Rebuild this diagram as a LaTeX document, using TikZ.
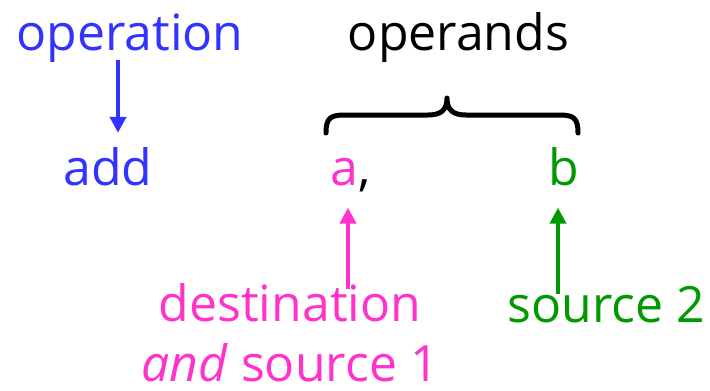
\documentclass[tikz,border=0pt]{standalone}
\usepackage{fontspec}
\setmainfont{Open Sans}
\usetikzlibrary{arrows.meta}
\definecolor{opblue}{RGB}{51,51,255}
\definecolor{oppink}{RGB}{255,51,204}
\definecolor{opgreen}{RGB}{0,153,0}
\begin{document}
\begin{tikzpicture}[x=1pt,y=-1pt,
  lbl/.style={inner sep=0pt,anchor=base,font=\fontsize{50}{60}\selectfont},
  arr/.style={line width=4.5pt,-{Triangle[length=16pt,width=16pt]}},
  bracestyle/.style={line width=5pt,line cap=round,line join=round}]
\useasboundingbox (0,0) rectangle (710,391);
\node[lbl,text=opblue] (operation) at (130,50) {operation};
\node[lbl,text=black] (operands) at (458.5,50) {operands};
\node[lbl,text=opblue] (add) at (108,185) {add};
\node[lbl,text=oppink] (a) at (344,185) {a};
\node[lbl,anchor=base west,text=black] (comma) at (a.base east) {,};
\node[lbl,text=opgreen] (b) at (564,185) {b};
\node[lbl,text=oppink,align=center] (dest) at (290,381) {destination\\\textit{and} source 1};
\node[lbl,text=opgreen] (src) at (606.5,322) {source 2};
% brace
\draw[bracestyle] (326,133) .. controls (326,117) and (331,115) .. (346,115)
  -- (428,115) .. controls (441,115) and (447,110) .. (447,98)
  .. controls (447,110) and (453,115) .. (466,115)
  -- (558,115) .. controls (573,115) and (578,117) .. (578,133);
% arrows
\draw[arr,opblue,shorten >=14pt,shorten <=-2pt] ([xshift=-12pt]operation.south) -- ([xshift=-12pt]operation.south |- add.north);
\draw[arr,oppink,shorten >=22pt,shorten <=-6pt] ([xshift=4pt]a.south |- dest.north) -- ([xshift=4pt]a.south);
\draw[arr,opgreen,shorten >=22pt,shorten <=-8pt] ([xshift=-6pt]b.south |- src.north) -- ([xshift=-6pt]b.south);
\end{tikzpicture}
\end{document}
